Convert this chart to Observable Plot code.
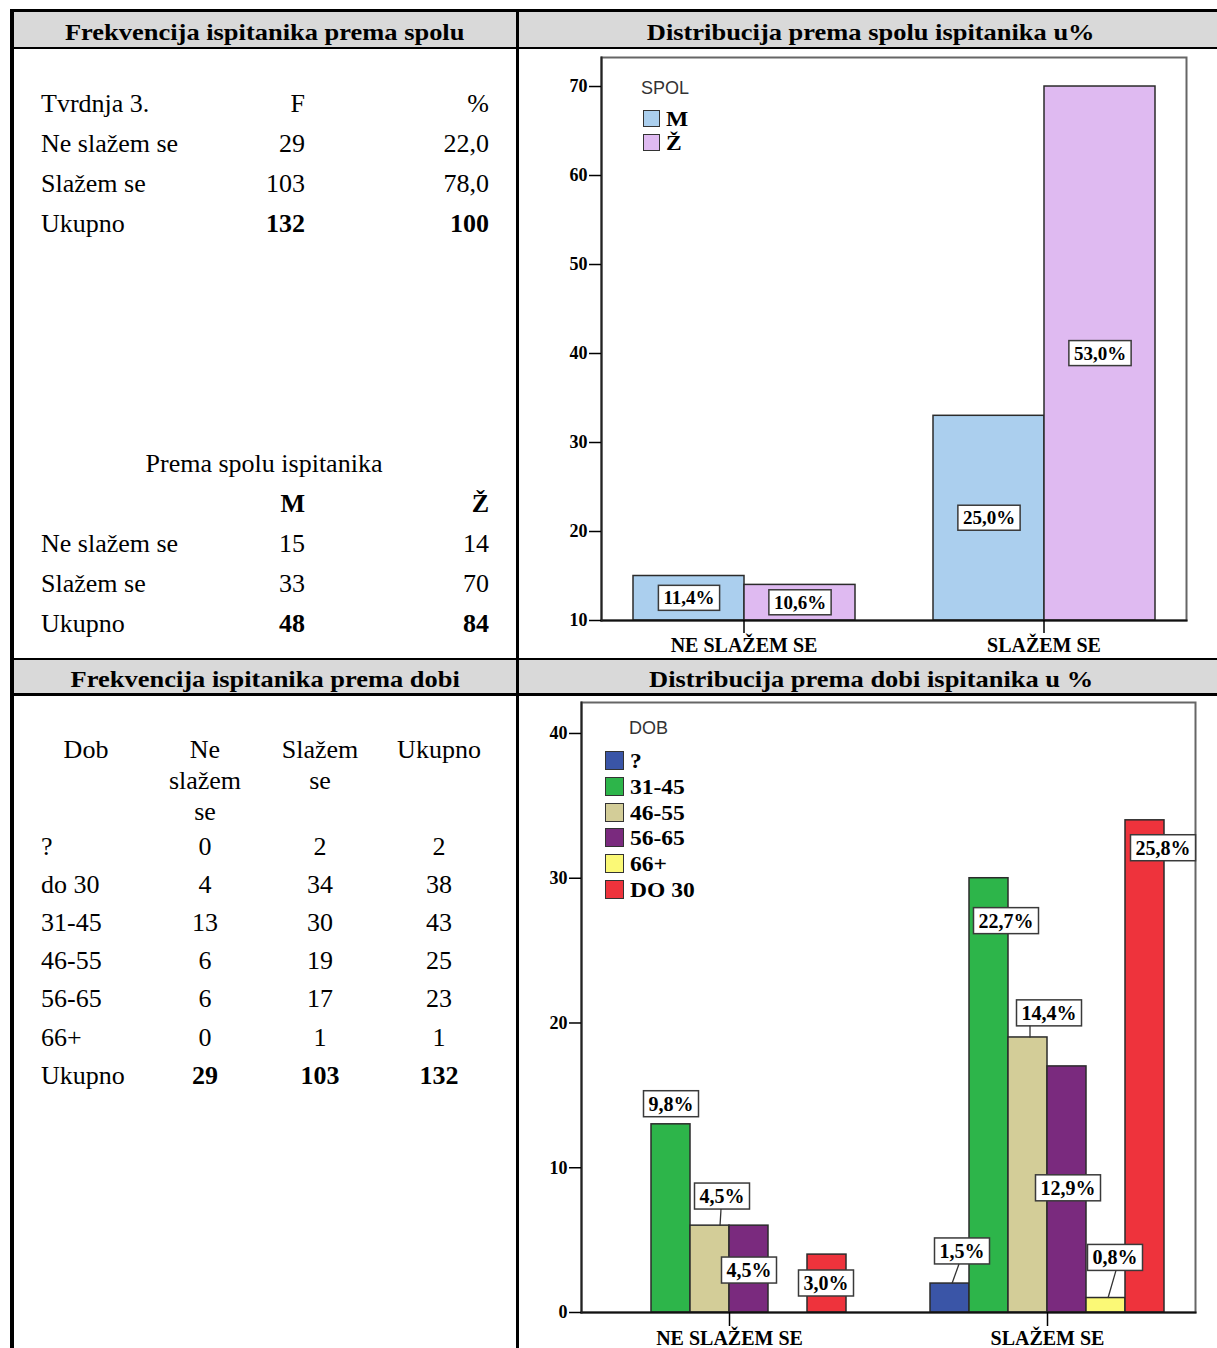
<!DOCTYPE html>
<html><head><meta charset="utf-8">
<script src="https://cdn.jsdelivr.net/npm/d3@7"></script>
<script src="https://cdn.jsdelivr.net/npm/@observablehq/plot@0.6"></script>
<style>
html,body{margin:0;padding:0;background:#fff;}
#page{position:relative;width:1217px;height:1348px;overflow:hidden;font-family:"Liberation Serif","Times New Roman",serif;color:#000;}
.ln{position:absolute;background:#000;}
.gray{position:absolute;background:#d9d9d9;}
.t{position:absolute;font-size:26px;line-height:30px;white-space:nowrap;}
.b{font-weight:bold;}
.hd{position:absolute;font-weight:bold;font-size:23px;line-height:30px;white-space:nowrap;text-align:center;width:700px;}
.hd span{display:inline-block;transform:scaleX(1.15);}
.chart{position:absolute;}
.leg{position:absolute;white-space:nowrap;}
.ytick text{font-size:18px;}
</style></head><body><div id="page"></div>
<script>
// ---------------- DATA ----------------
const answerCategories = ["NE SLAŽEM SE", "SLAŽEM SE"];

const table1Rows = ["Ne slažem se", "Slažem se"];
const table1F = [29, 103];
const table1Pct = ["22,0", "78,0"];
const table1Totals = ["132", "100"];

const spolGroups = ["M", "Ž"];
const spolRows = ["Ne slažem se", "Slažem se"];
const spolCountM = [15, 33];
const spolCountZ = [14, 70];
const spolTotals = [48, 84];
const spolPctM = ["11,4%", "25,0%"];
const spolPctZ = ["10,6%", "53,0%"];
const spolYTicks = [10, 20, 30, 40, 50, 60, 70];

const dobTableRows = ["?", "do 30", "31-45", "46-55", "56-65", "66+"];
const dobTableNe = [0, 4, 13, 6, 6, 0];
const dobTableSl = [2, 34, 30, 19, 17, 1];
const dobTableUk = [2, 38, 43, 25, 23, 1];
const dobTableTotals = [29, 103, 132];

const dobGroups = ["?", "31-45", "46-55", "56-65", "66+", "DO 30"];
const dobCountNe = [0, 13, 6, 6, 0, 4];
const dobCountSl = [2, 30, 19, 17, 1, 34];
const dobPctNe = ["", "9,8%", "4,5%", "4,5%", "", "3,0%"];
const dobPctSl = ["1,5%", "22,7%", "14,4%", "12,9%", "0,8%", "25,8%"];
const dobYTicks = [0, 10, 20, 30, 40];

// ---------------- STYLES ----------------
const SERIF = '"Liberation Serif","Times New Roman",serif';
const SANS = '"Liberation Sans",Arial,sans-serif';
const spolColors = ["#abcfee", "#dfbaf1"];
const dobColors = ["#3a55a7", "#2db54a", "#d3cd98", "#7a2a7e", "#fbf976", "#ee333c"];

// label placement for chart 2 (pixel offsets from bar top), keyed "categoryIndex|group"
const dobLabelPlacement = {
  "0|31-45": {dx: 0, dy: -20},
  "0|46-55": {dx: 12, dy: -29, leader: [10, -1]},
  "0|56-65": {dx: 0, dy: 45},
  "0|DO 30": {dx: -1, dy: 29},
  "1|?": {dx: 12, dy: -32, leader: [2, -3]},
  "1|31-45": {dx: 17, dy: 43},
  "1|46-55": {dx: 21, dy: -24, leader: [2, -19]},
  "1|56-65": {dx: 1, dy: 122},
  "1|66+": {dx: 9, dy: -40, leader: [2, 1]},
  "1|DO 30": {dx: 18, dy: 28}
};

// ---------------- LAYOUT HELPERS ----------------
const page = document.getElementById("page");
const NS = "http://www.w3.org/2000/svg";
function add(cls, css, text) {
  const d = document.createElement("div");
  d.className = cls; d.style.cssText = css;
  if (text !== undefined) d.textContent = text;
  page.appendChild(d); return d;
}
function txt(s, x, yc, align, bold) {
  const w = 400;
  const left = align === "left" ? x : align === "right" ? x - w : x - w / 2;
  add("t" + (bold ? " b" : ""), `left:${left}px;top:${yc - 15.2}px;width:${w}px;text-align:${align};`, String(s));
}
function heading(s, cx, top) {
  const d = add("hd", `left:${cx - 350}px;top:${top}px;`);
  const sp = document.createElement("span"); sp.textContent = s; d.appendChild(sp);
}

// header backgrounds
add("gray", "left:14px;top:12px;width:1203px;height:35px;");
add("gray", "left:14px;top:660px;width:1203px;height:33px;");
heading("Frekvencija ispitanika prema spolu", 265, 18);
heading("Distribucija prema spolu ispitanika u%", 871, 18);
heading("Frekvencija ispitanika prema dobi", 265, 665);
heading("Distribucija prema dobi ispitanika u %", 871, 665);

// ---------------- TABLE 1 ----------------
txt("Tvrdnja 3.", 41, 104, "left"); txt("F", 305, 104, "right"); txt("%", 489, 104, "right");
table1Rows.forEach((r, i) => {
  const y = 144 + 40 * i;
  txt(r, 41, y, "left"); txt(table1F[i], 305, y, "right"); txt(table1Pct[i], 489, y, "right");
});
txt("Ukupno", 41, 224, "left"); txt(table1Totals[0], 305, 224, "right", true); txt(table1Totals[1], 489, 224, "right", true);

txt("Prema spolu ispitanika", 264, 464, "center");
txt(spolGroups[0], 305, 504, "right", true); txt(spolGroups[1], 489, 504, "right", true);
spolRows.forEach((r, i) => {
  const y = 544 + 40 * i;
  txt(r, 41, y, "left"); txt(spolCountM[i], 305, y, "right"); txt(spolCountZ[i], 489, y, "right");
});
txt("Ukupno", 41, 624, "left"); txt(spolTotals[0], 305, 624, "right", true); txt(spolTotals[1], 489, 624, "right", true);

// ---------------- TABLE 2 ----------------
txt("Dob", 86, 750, "center");
["Ne", "slažem", "se"].forEach((s, i) => txt(s, 205, 750 + 31 * i, "center"));
["Slažem", "se"].forEach((s, i) => txt(s, 320, 750 + 31 * i, "center"));
txt("Ukupno", 439, 750, "center");
dobTableRows.forEach((r, i) => {
  const y = 847 + 38.17 * i;
  txt(r, 41, y, "left"); txt(dobTableNe[i], 205, y, "center"); txt(dobTableSl[i], 320, y, "center"); txt(dobTableUk[i], 439, y, "center");
});
txt("Ukupno", 41, 1076, "left");
dobTableTotals.forEach((v, i) => txt(v, [205, 320, 439][i], 1076, "center", true));

// ---------------- BOX LABEL HELPERS ----------------
function addBoxes(svg, padX, padY) {
  svg.querySelectorAll('g[aria-description^="boxlabel"] text').forEach(t => {
    const b = t.getBBox();
    const r = document.createElementNS(NS, "rect");
    r.setAttribute("x", b.x - padX); r.setAttribute("y", b.y - padY);
    r.setAttribute("width", b.width + 2 * padX); r.setAttribute("height", b.height + 2 * padY);
    r.setAttribute("fill", "#fff"); r.setAttribute("stroke", "#3a3a3a"); r.setAttribute("stroke-width", "1.5");
    const tr = t.getAttribute("transform"); if (tr) r.setAttribute("transform", tr);
    t.parentNode.insertBefore(r, t);
  });
}
function addLeaders(svg, items) {
  items.forEach(it => {
    const t = svg.querySelector(`g[aria-description="${it.id}"] text`);
    if (!t) return;
    const r = t.previousElementSibling;
    const p = svg.createSVGPoint();
    p.x = +t.getAttribute("x") || 0; p.y = +t.getAttribute("y") || 0;
    const a = p.matrixTransform(t.getCTM());
    const x1 = a.x - it.dx + it.leader[0], y1 = a.y - it.dy;
    const rb = r.getBBox();
    const q = svg.createSVGPoint(); q.x = rb.x + rb.width / 2 + it.leader[1]; q.y = rb.y + rb.height;
    const bq = q.matrixTransform(r.getCTM());
    const l = document.createElementNS(NS, "line");
    l.setAttribute("x1", x1); l.setAttribute("y1", y1); l.setAttribute("x2", bq.x); l.setAttribute("y2", bq.y);
    l.setAttribute("stroke", "#333"); l.setAttribute("stroke-width", "1.3");
    svg.appendChild(l);
  });
}
function styleYTicks(svg) {
  svg.querySelectorAll('g[aria-label="y-axis tick label"] text, g[aria-label="y-axis tick label"]').forEach(e => {
    e.setAttribute("font-size", "18"); e.style.fontSize = "18px";
  });
}

// ---------------- CHART 1 ----------------
const spolData = [];
answerCategories.forEach((c, i) => {
  spolData.push({cat: c, spol: spolGroups[0], value: spolCountM[i], label: spolPctM[i]});
  spolData.push({cat: c, spol: spolGroups[1], value: spolCountZ[i], label: spolPctZ[i]});
});

const chart1 = Plot.plot({
  width: 697, height: 608,
  marginLeft: 80, marginRight: 30, marginTop: 7, marginBottom: 38,
  style: {background: "none", overflow: "visible", fontFamily: SERIF},
  fx: {domain: answerCategories, paddingInner: 0.0498, paddingOuter: 0, label: null},
  x: {domain: spolGroups, paddingInner: 0, paddingOuter: 0.277, axis: null},
  y: {domain: [10, 73.26], label: null},
  color: {domain: spolGroups, range: spolColors},
  marks: [
    Plot.frame({facet: "super", stroke: "#666", strokeWidth: 2}),
    Plot.barY(spolData, {fx: "cat", x: "spol", y1: 10, y2: "value", fill: "spol", stroke: "#2b2b2b", strokeWidth: 1.5}),
    Plot.frame({facet: "super", anchor: "bottom", stroke: "#111", strokeWidth: 2}),
    Plot.frame({facet: "super", anchor: "left", stroke: "#222", strokeWidth: 2}),
    Plot.text(spolData, {fx: "cat", x: "spol", y: d => (10 + d.value) / 2, text: "label", fontSize: 19, fontWeight: "bold", fontFamily: SERIF, fill: "#000", ariaDescription: "boxlabel"}),
    Plot.axisY({ticks: spolYTicks, tickSize: 12, tickPadding: 2, fontSize: 18, fontWeight: "bold", fontFamily: SERIF, color: "#000", strokeWidth: 1.5, tickFormat: d => String(d), label: null}),
    Plot.axisFx({anchor: "bottom", tickSize: 13, tickPadding: 4, fontSize: 20, fontWeight: "bold", fontFamily: SERIF, color: "#000", strokeWidth: 1.5, label: null})
  ]
});
const c1 = add("chart", "left:520px;top:50px;");
c1.appendChild(chart1);
styleYTicks(chart1);
addBoxes(chart1, 5, 2);

// ---------------- CHART 2 ----------------
const dobData = [];
dobGroups.forEach((g, j) => {
  dobData.push({ci: 0, cat: answerCategories[0], dob: g, value: dobCountNe[j], label: dobPctNe[j]});
  dobData.push({ci: 1, cat: answerCategories[1], dob: g, value: dobCountSl[j], label: dobPctSl[j]});
});
const dobBars = dobData.filter(d => d.value > 0);
const leaderItems = [];
const dobLabelMarks = dobData.filter(d => d.label).map((d, i) => {
  const p = dobLabelPlacement[d.ci + "|" + d.dob] || {dx: 0, dy: 0};
  const id = "boxlabel-" + i;
  if (p.leader) leaderItems.push({id, dx: p.dx, dy: p.dy, leader: p.leader});
  return Plot.text([d], {fx: "cat", x: "dob", y: "value", text: "label", dx: p.dx, dy: p.dy, fontSize: 20, fontWeight: "bold", fontFamily: SERIF, fill: "#000", ariaDescription: id});
});

const chart2 = Plot.plot({
  width: 697, height: 652,
  marginLeft: 61, marginRight: 22, marginTop: 6, marginBottom: 36,
  style: {background: "none", overflow: "visible", fontFamily: SERIF},
  fx: {domain: answerCategories, paddingInner: 0.0692, paddingOuter: 0, label: null},
  x: {domain: dobGroups, paddingInner: 0, paddingOuter: 0.78, axis: null},
  y: {domain: [0, 42.14], label: null},
  color: {domain: dobGroups, range: dobColors},
  marks: [
    Plot.frame({facet: "super", stroke: "#666", strokeWidth: 2}),
    Plot.barY(dobBars, {fx: "cat", x: "dob", y: "value", fill: "dob", stroke: "#2b2b2b", strokeWidth: 1.5}),
    Plot.frame({facet: "super", anchor: "bottom", stroke: "#111", strokeWidth: 2}),
    Plot.frame({facet: "super", anchor: "left", stroke: "#222", strokeWidth: 2}),
    ...dobLabelMarks,
    Plot.axisY({ticks: dobYTicks, tickSize: 12, tickPadding: 2, fontSize: 18, fontWeight: "bold", fontFamily: SERIF, color: "#000", strokeWidth: 1.5, tickFormat: d => String(d), label: null}),
    Plot.axisFx({anchor: "bottom", tickSize: 14, tickPadding: 4, fontSize: 20, fontWeight: "bold", fontFamily: SERIF, color: "#000", strokeWidth: 1.5, label: null})
  ]
});
const c2 = add("chart", "left:520px;top:696px;");
c2.appendChild(chart2);
styleYTicks(chart2);
addBoxes(chart2, 5, 2);
addLeaders(chart2, leaderItems);

// ---------------- LEGENDS ----------------
function legendTitle(s, x, yc) {
  add("leg", `left:${x}px;top:${yc - 11}px;font-family:${SANS};font-size:18px;line-height:22px;color:#333;`, s);
}
function legendItem(color, label, x, top, w, h, lx) {
  add("leg", `left:${x}px;top:${top}px;width:${w - 3}px;height:${h - 3}px;background:${color};border:1.5px solid #333;`);
  add("leg", `left:${lx}px;top:${top + h / 2 - 12}px;font-family:${SERIF};font-weight:bold;font-size:21px;line-height:24px;transform-origin:0 50%;transform:scaleX(1.12);`, label);
}
legendTitle("SPOL", 641, 88);
spolGroups.forEach((g, i) => legendItem(spolColors[i], g, 643, 110 + 24 * i, 18, 18, 666));
legendTitle("DOB", 629, 728);
dobGroups.forEach((g, i) => legendItem(dobColors[i], g, 605, 751 + 25.8 * i, 20, 20, 630));

// ---------------- TABLE LINES ----------------
add("ln", "left:10px;top:9px;width:1207px;height:3px;");
add("ln", "left:10px;top:9px;width:4px;height:1339px;");
add("ln", "left:516px;top:9px;width:3px;height:1339px;");
add("ln", "left:10px;top:47px;width:1207px;height:2px;");
add("ln", "left:10px;top:658px;width:1207px;height:2px;");
add("ln", "left:10px;top:693px;width:1207px;height:3px;");
</script></body></html>
